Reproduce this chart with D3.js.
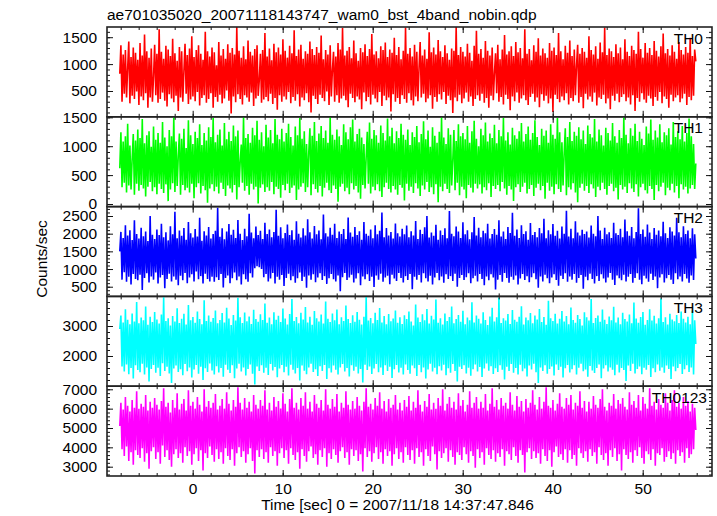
<!DOCTYPE html>
<html><head><meta charset="utf-8">
<script src="https://cdn.jsdelivr.net/npm/d3@7"></script>
<style>
body{margin:0;background:#fff}
svg{display:block}
text{font-family:"Liberation Sans",Arial,Helvetica,sans-serif;font-size:15.5px;fill:#000}
</style>
</head><body><svg id="c" width="717" height="516"></svg>
<script>
const TITLE = "ae701035020_20071118143747_wam0_bst_4band_nobin.qdp";
const X_LABEL = "Time [sec] 0 = 2007/11/18 14:37:47.846";
const Y_LABEL = "Counts/sec";
const TIME_START = -8.1, TIME_STEP = 0.125;
const X_MAJOR_TICKS = [0, 10, 20, 30, 40, 50];
const SERIES_NAMES = ["TH0", "TH1", "TH2", "TH3", "TH0123"];

const TH0 = [
820,1350,300,1180,450,1260,380,920,1420,270,1130,410,1310,350,1210,490,
1080,240,1390,400,1160,330,1550,460,1240,190,1120,380,1290,300,760,1360,
420,1190,280,1650,350,1230,470,1100,320,1340,210,1270,440,1150,360,1470,
290,1200,410,1060,130,1320,380,1240,300,870,1380,450,1170,260,1290,340,
1520,400,1130,310,1260,480,1350,230,1190,370,1080,420,1600,280,1240,350,
1140,460,1310,190,1220,390,980,300,1410,430,1160,270,1280,360,1100,510,
1370,320,1210,80,1300,400,1180,290,1690,440,1250,350,1120,250,1330,420,
1090,380,1440,300,1230,470,1160,220,1280,360,1350,410,700,1190,280,1260,
340,1580,390,1140,310,1290,450,1070,260,1380,370,1220,150,1310,420,1180,
300,1460,400,1250,340,1120,480,1340,270,1200,390,1630,320,1150,440,1270,
210,1360,380,1100,330,1240,460,1190,290,1420,100,1280,410,1170,350,1320,
260,1210,430,1530,370,1090,310,1260,490,1180,240,1350,400,890,1230,300,
1140,420,1390,280,1270,360,1670,410,1160,330,1250,200,1320,450,1110,370,
1440,290,1200,400,1060,340,1300,160,1220,470,1370,310,1150,390,1280,250,
1560,430,1180,360,1240,290,1110,480,1330,220,1260,410,1400,330,1130,380,
1270,120,1210,440,1490,300,1170,370,1320,260,1090,420,1250,350,1680,280,
1190,460,1300,330,1140,230,1360,400,1230,310,940,1410,380,1160,450,1270,
290,1100,360,1590,420,1220,170,1310,390,1180,300,1450,440,1240,340,1130,
480,1350,260,1200,410,1080,330,1290,90,1250,380,1700,310,1170,430,1320,
270,1230,360,1140,470,1380,300,1210,400,1060,220,1340,350,1620,420,1190,
320,1280,450,1120,280,1430,370,1250,190,1160,410,1310,330,820,1200,460,
1360,300,1090,390,1270,250,1540,430,1180,350,1240,140,1330,400,1150,310,
1410,470,1220,280,1300,360,1110,420,1650,330,1190,240,1280,390,1070,450,
1350,300,1230,380,1480,200,1160,440,1290,320,1200,410,1120,270,1390,360,
1250,110,1310,430,1170,350,1580,290,1240,400,1090,330,1340,460,1210,250,
1440,370,1150,310,1270,420,980,1360,280,1190,390,1300,180,1230,450,1120,
340,1520,400,1260,300,1180,470,1330,230,1100,380,1400,350,1220,430,1680,
270,1170,360,1290,160,1240,410,1130,320,1370,450,1200,290,1310,390,1090,
440,1460,310,1230,380,1150,250,1340,420,1260,130,1190,370,1600,300,1280,
460,1120,340,1390,280,1210,410,1300,360,1170,220,1430,390,1250,320,1140,
480,1330,270,1570,400,1200,350,1280,190,1160,430,1350,310,1230,380,1100,
420,1410,290,1260,360,1180,450,1320,240,1210,390,1490,330,1150,410,1270,
1050];

const TH1 = [
620,1240,290,1080,370,1170,200,1390,320,1010,250,780,1210,160,1100,350,
1290,230,1140,330,1470,270,1050,130,1190,300,1260,380,990,220,1340,290,
1110,170,1230,350,1060,260,1420,190,1150,340,1000,50,1280,250,1170,360,
1500,210,1080,310,840,1220,160,1130,330,1300,240,970,280,1450,200,1190,
350,1040,100,1250,290,1140,360,1380,180,1020,310,1230,240,1100,20,1330,
270,1160,340,1490,220,1070,300,1200,180,1290,370,1010,260,1400,140,1120,
320,1250,270,1090,200,1360,330,1170,80,1270,290,720,1030,370,1500,230,
1140,310,1210,160,1060,350,1320,250,1190,300,1440,10,1110,280,1240,340,
1000,210,1370,290,1150,230,1280,380,1050,170,1470,300,1200,260,1120,110,
1300,330,1080,240,1230,350,1390,190,1160,280,1010,320,1340,70,1190,250,
1490,300,1130,360,1260,210,1040,290,900,1310,150,1180,340,1420,260,1090,
200,1220,310,1350,130,1140,280,1270,370,1060,240,1500,190,1200,320,1110,
260,1290,40,1170,300,1020,350,1380,220,1240,280,1120,170,1330,360,1460,
250,1080,310,1210,200,1300,90,1150,330,1040,270,810,1250,350,1410,180,
1130,300,1280,240,1190,340,1060,220,1360,120,1230,290,1100,370,1480,260,
1170,200,1320,310,1050,250,1260,160,1140,330,1390,280,1200,60,1110,350,
1290,230,1020,300,1240,190,1160,360,1350,270,1070,140,1210,320,1430,250,
1120,380,1270,210,990,290,1330,170,1180,340,1060,30,1250,300,1500,220,
1150,350,1040,260,1310,190,1200,320,760,1280,240,1090,370,1380,150,1170,
300,1230,250,1120,100,1350,330,1060,280,1260,200,1440,350,1130,270,1000,
340,1300,180,1190,290,1410,240,1080,360,1220,120,1140,310,1370,260,1050,
330,1280,220,1170,380,1490,270,1100,160,1240,310,1030,250,1320,50,1190,
290,1130,340,1260,210,1400,300,1080,370,1210,180,1340,260,1110,330,1230,
140,1450,280,1160,350,1020,240,1300,310,1180,90,1270,370,1060,230,1380,
300,1200,170,1130,340,1490,260,1240,210,1070,320,880,1310,150,1160,290,
1420,250,1090,360,1250,200,1180,30,1330,280,1120,350,1270,230,1040,310,
1360,190,1210,340,1150,270,1470,120,1080,300,1290,240,1190,370,1010,260,
1320,160,1230,310,1100,350,1400,220,1170,280,1060,80,1280,330,1140,250,
1500,300,1200,190,1050,360,1310,270,1180,210,1390,340,1090,130,1250,290,
1130,350,1020,240,1340,180,1220,310,1460,260,1110,70,1270,330,1150,220,
1380,300,1070,370,1240,150,1190,280,1310,240,1030,350,1420,200,1160,310,
1260,100,1120,340,1350,250,1080,300,1230,180,1480,270,1170,330,1040,260,
700];

const TH2 = [
1500,2050,700,1880,910,2240,640,1950,780,2100,560,1820,860,2380,720,1990,
680,1860,840,2170,410,1930,750,2060,880,1790,620,2500,790,1970,700,1850,
900,2120,590,1960,760,2280,830,1900,460,2040,720,1810,870,2210,650,1980,
790,2620,700,1870,540,2090,810,1940,680,2160,890,1830,600,2330,760,2010,
850,1890,650,2130,930,1920,710,2450,800,1800,590,2070,870,1950,720,2190,
650,1860,780,1990,640,2080,770,2730,690,1910,860,2150,480,1840,750,2060,
820,2270,600,1970,740,2110,900,1880,680,2390,790,2000,560,1820,850,2140,
710,1930,640,2560,880,2030,760,1870,1020,2200,1080,1960,1050,2080,1000,1850,
770,2310,860,1990,650,2120,730,1900,890,2050,590,2680,780,1940,700,2180,
830,1870,520,2020,750,2260,870,1960,680,2100,800,1830,610,2350,740,2000,
900,1890,660,2150,780,1950,470,2410,820,2040,700,1860,850,2220,630,1980,
760,2090,880,1840,690,2540,800,2010,580,1920,740,2170,860,1970,710,2280,
650,1880,820,2060,370,1990,770,2130,890,1850,690,2460,760,2030,840,1910,
620,2190,730,1960,880,2070,540,1830,790,2330,710,2000,850,1940,660,2120,
780,1870,490,2240,820,1980,700,2080,870,2600,640,1900,760,2160,810,1950,
570,2050,840,1860,730,2290,660,2010,890,1920,750,2140,620,1980,800,2230,
690,1900,860,2070,430,1950,780,2360,700,1850,830,2110,620,1990,880,2180,
740,2500,650,1890,810,2030,560,1940,760,2250,890,1830,680,2090,790,1960,
610,2150,850,1870,720,2640,800,2000,660,1930,870,2200,500,2060,750,1880,
830,2320,690,1980,770,2100,880,1840,600,2040,740,2470,810,1950,650,2170,
860,1900,720,2080,540,2010,790,2280,680,1860,850,1990,760,2130,420,1970,
700,2380,830,1920,640,2060,890,1850,750,2190,610,2020,780,2590,700,1940,
820,2120,560,1880,730,2240,860,1990,690,2070,800,1830,630,2300,770,1960,
880,2050,710,1900,470,2160,790,2010,650,2420,840,1870,740,2100,600,1980,
760,2270,850,1940,690,2080,530,1860,810,2200,720,2000,880,2650,640,1920,
790,2140,700,1870,860,2350,610,2030,750,1950,830,2110,440,1990,780,2060,
680,1890,870,2230,720,2000,590,1930,800,2500,660,2090,850,1850,730,2170,
620,1980,760,2040,890,1880,700,2310,550,2010,820,1960,740,2140,680,1900,
840,2400,650,2070,780,1940,860,2190,610,1870,750,2050,880,2720,700,1990,
570,2120,810,1910,730,2260,640,2030,870,1850,690,2160,790,1970,460,2090,
760,1930,850,2340,620,2010,740,1880,830,2180,700,2060,580,1950,880,2450,
710,2040,790,1900,650,2210,860,1990,730,2090,610,1870,820,2150,690,1980,
1300];

const TH3 = [
2900,3350,1650,3120,1480,3560,1720,3210,1390,3060,1600,3420,1250,3150,1690,3800,
1530,3090,1460,3280,1740,3190,1380,3650,1620,3040,1150,3310,1570,3130,1700,3470,
1440,3220,1610,3080,1330,3380,1760,3960,1500,3170,1640,3260,1420,3020,1100,3330,
1580,3150,1680,3590,1470,3100,1560,3240,1360,3410,1730,3050,1490,3700,1620,3190,
1280,3300,1550,3110,1700,3480,1410,3230,1640,3060,1200,3860,1590,3170,1470,3350,
1750,3140,1520,3270,1380,3520,1660,3090,1450,3200,1600,3430,1310,3120,1710,3610,
1540,3250,1430,3030,1690,3370,1260,3180,1580,3940,1740,3290,1480,3100,1620,3450,
1350,3160,1570,3320,1720,3070,1410,3540,1050,3230,1650,3140,1500,3390,1690,3200,
1440,3750,1610,3110,1370,3280,1730,3060,1520,3460,1630,3210,1290,3340,1580,3130,
1700,3580,1460,3250,1640,3050,1350,3400,1710,3900,1540,3170,1420,3300,1600,3090,
1180,3440,1680,3220,1510,3630,1390,3120,1620,3310,1740,3040,1470,3500,1560,3260,
1330,3150,1660,3380,1500,3080,1700,3820,1230,3240,1590,3130,1450,3420,1680,3190,
1540,3550,1380,3060,1620,3290,1730,3170,1480,3680,1600,3230,1320,3100,1690,3360,
1510,3140,1640,3470,1420,3210,1570,3050,1120,3310,1710,3970,1530,3180,1650,3270,
1400,3090,1580,3440,1730,3200,1460,3600,1620,3120,1370,3330,1690,3060,1500,3400,
1640,3160,1270,3250,1560,3520,1700,3110,1450,3290,1610,3070,1380,3360,1720,3230,
1530,3480,1410,3150,1680,3020,1590,3720,1330,3280,1700,3130,1460,3390,1620,3190,
1250,3570,1550,3080,1740,3340,1480,3220,1610,3880,1390,3110,1660,3260,1520,3050,
1710,3420,1360,3170,1590,3300,1440,3650,1730,3090,1500,3230,1150,3370,1640,3140,
1570,3510,1690,3060,1420,3280,1610,3190,1340,3790,1560,3120,1720,3350,1480,3240,
1630,3080,1300,3460,1580,3200,1750,3030,1510,3320,1660,3610,1400,3150,1590,3290,
1470,3950,1690,3100,1540,3260,1220,3180,1640,3400,1500,3070,1730,3530,1440,3210,
1600,3140,1380,3310,1710,3660,1490,3050,1580,3280,1320,3190,1680,3430,1550,3090,
1740,3350,1460,3220,1100,3570,1620,3130,1500,3300,1690,3040,1410,3840,1570,3260,
1650,3170,1350,3410,1720,3080,1530,3240,1640,3500,1280,3150,1590,3330,1700,3060,
1450,3620,1560,3200,1690,3110,1380,3370,1610,3230,1740,3020,1490,3460,1550,3290,
1310,3180,1670,3900,1520,3100,1430,3270,1600,3350,1720,3140,1260,3550,1580,3210,
1690,3070,1480,3320,1620,3190,1540,3640,1360,3120,1710,3280,1450,3060,1600,3440,
1530,3230,1170,3150,1680,3380,1500,3090,1740,3780,1420,3250,1570,3110,1650,3300,
1390,3470,1610,3040,1540,3200,1700,3560,1300,3180,1590,3340,1460,3080,1720,3260,
1510,3920,1620,3130,1440,3290,1680,3050,1570,3410,1230,3220,1650,3160,1490,3370,
1600,3100,1730,3480,1400,3240,1560,3120,1690,3310,1470,3060,1620,3520,1380,3190,
2400];

const TH0123 = [
5100,6300,3900,5950,3550,6600,4050,6150,3300,5850,3750,6450,3100,6050,3850,6900,
3600,6000,3450,6250,3950,6100,3250,6700,3700,5900,2900,6350,3800,6050,4000,6550,
3400,6200,3750,5950,3150,6400,4100,7050,3500,6100,3850,6300,3350,5800,3000,6450,
3650,6050,3900,6800,3450,5950,3700,6250,3200,6500,4000,5900,3550,6950,3800,6150,
3100,6350,3650,6000,3950,6600,3300,6200,3850,5850,2800,7000,3700,6100,3450,6400,
4050,6050,3600,6300,3250,6750,3900,5950,3400,6150,3750,6500,3150,6000,3950,6850,
3550,6250,3350,5900,3900,6450,3050,6100,3700,7100,4000,6300,3500,5950,3800,6550,
3200,6050,3650,6350,3950,5850,3300,6700,2650,6200,3850,6000,3500,6450,3900,6150,
3400,6950,3750,5950,3200,6300,4000,5900,3550,6600,3800,6100,3050,6400,3700,6000,
3950,6800,3450,6250,3850,5850,3150,6500,3950,7050,3600,6050,3350,6300,3750,5950,
2900,6550,3900,6150,3550,6850,3250,6000,3800,6350,4050,5850,3450,6700,3650,6250,
3100,6050,3850,6450,3500,5900,3950,7000,3000,6200,3700,6000,3400,6500,3900,6100,
3600,6750,3200,5850,3800,6300,4000,6050,3450,6900,3750,6200,3100,5950,3900,6400,
3550,6000,3850,6600,3300,6150,3650,5900,2750,6350,3950,7050,3500,6100,3800,6250,
3250,5950,3700,6550,4000,6150,3400,6850,3750,6000,3150,6400,3900,5850,3550,6500,
3800,6050,3050,6200,3650,6700,3950,5950,3400,6300,3750,5900,3200,6450,4000,6100,
3600,6650,3350,5900,3850,6350,3150,6050,3950,6950,3500,6200,3750,5850,3050,6400,
3900,6100,3550,6750,3300,5950,4050,6300,3650,6000,2850,6550,3800,6150,3450,7000,
3700,5900,3950,6250,3250,6600,3850,6050,3500,6350,3100,5950,3750,6800,3600,6150,
3350,6450,4000,5850,3650,6200,3200,6900,3800,6050,3550,6300,2950,6600,3900,6000,
3450,6350,3750,6050,3100,6750,3950,5900,3600,6250,3400,7050,3850,6100,3250,6450,
3700,5950,3500,6550,3900,6150,3050,6300,3800,6000,3650,6850,3350,6200,4000,5900,
3550,6650,3200,6100,3850,6400,3600,5850,2700,6500,3750,6050,3950,6300,3400,6950,
3800,6200,3450,5950,3700,6600,3150,6000,3900,6350,3550,7100,3300,6150,3850,6050,
3000,6450,3750,5900,4050,6250,3500,6800,3650,6100,3350,6000,3900,6550,3200,6200,
3850,6700,3400,5950,3600,6300,3050,6150,3950,6900,3700,6050,3450,6400,3800,5850,
3250,6350,3900,6000,3550,6650,3750,6200,3150,6050,4000,6500,3600,7000,3350,6100,
3700,5900,3050,6300,3850,6150,3500,6750,3950,6000,3300,6450,3650,6250,2800,6550,
3900,6100,3600,5950,3400,6850,3750,6200,3200,6400,3850,6050,3550,6700,4000,5900,
3450,6600,3150,6250,3800,6000,3650,7050,3350,6150,3900,6350,3050,5950,3700,6500,
3600,6200,3950,6050,3250,6800,3500,6300,3800,5900,3400,6450,3700,6950,3150,6100,
3850,6300,3550,6000,3750,6600,3200,6150,3950,6400,3450,5850,3650,6250,3900,6050,
4900];

const Y_MAJOR_TICKS = [
  [500, 1000, 1500],
  [0, 500, 1000, 1500],
  [500, 1000, 1500, 2000, 2500],
  [2000, 3000],
  [3000, 4000, 5000, 6000, 7000]
];
const Y_MINOR_STEP = [100, 100, 100, 200, 200];
const Y_DOMAINS = [[20, 1690], [-45, 1509], [226, 2766], [993, 3987], [2519, 7160]];
const COLORS = ["#ff0000", "#00ff00", "#0000ff", "#00ffff", "#ff00ff"];
const SERIES = [TH0, TH1, TH2, TH3, TH0123];

const svg = d3.select("#c");
const L = 107, R = 712, TOP = 27, BOT = 476;
const PH = (BOT - TOP) / 5;
const x = d3.scaleLinear().domain([-9.52, 57.7]).range([L, R]);
const xMinor = d3.range(-8, 58, 2);

SERIES.forEach((vals, i) => {
  const top = TOP + i * PH, bot = top + PH;
  const y = d3.scaleLinear().domain(Y_DOMAINS[i]).range([bot, top]);
  const g = svg.append("g");
  const cid = "clip" + i;
  svg.append("clipPath").attr("id", cid).append("rect")
    .attr("x", L).attr("y", top).attr("width", R - L).attr("height", PH);
  const line = d3.line()
    .x((d, j) => x(TIME_START + j * TIME_STEP))
    .y(d => y(d));
  g.append("path").datum(vals)
    .attr("clip-path", `url(#${cid})`)
    .attr("fill", "none")
    .attr("stroke", COLORS[i])
    .attr("stroke-width", 1.6)
    .attr("stroke-linejoin", "bevel")
    .attr("d", line);

  const [d0, d1] = Y_DOMAINS[i];
  const st = Y_MINOR_STEP[i];
  const yMinor = d3.range(Math.ceil(d0 / st) * st, d1, st);

  const addAxis = (axis, tx, ty, labels) => {
    const a = svg.append("g").attr("transform", `translate(${tx},${ty})`).call(axis);
    a.select(".domain").remove();
    a.selectAll(".tick line").attr("stroke", "#111").attr("stroke-width", 1);
    if (!labels) a.selectAll(".tick text").remove();
    else a.selectAll(".tick text").attr("font-family", null).attr("font-size", null);
    return a;
  };
  addAxis(d3.axisLeft(y).tickValues(yMinor).tickSize(-3), L, 0, false);
  addAxis(d3.axisLeft(y).tickValues(Y_MAJOR_TICKS[i]).tickSize(-6).tickPadding(10).tickFormat(d3.format("d")), L, 0, true);
  addAxis(d3.axisRight(y).tickValues(yMinor).tickSize(-3), R, 0, false);
  addAxis(d3.axisRight(y).tickValues(Y_MAJOR_TICKS[i]).tickSize(-6), R, 0, false);
  addAxis(d3.axisTop(x).tickValues(xMinor).tickSize(-3), 0, top, false);
  addAxis(d3.axisTop(x).tickValues(X_MAJOR_TICKS).tickSize(-6), 0, top, false);
  addAxis(d3.axisBottom(x).tickValues(xMinor).tickSize(-3), 0, bot, false);
  addAxis(d3.axisBottom(x).tickValues(X_MAJOR_TICKS).tickSize(-6).tickPadding(6.5), 0, bot, i === 4);

  svg.append("rect").attr("x", L).attr("y", top).attr("width", R - L).attr("height", PH)
    .attr("fill", "none").attr("stroke", "#222").attr("stroke-width", 1.6);

  svg.append("text")
    .attr("x", i === 4 ? 707 : 703).attr("y", top + 16.5)
    .attr("text-anchor", "end").text(SERIES_NAMES[i]);
});

svg.append("text").attr("x", 107).attr("y", 19.5).text(TITLE);
svg.append("text").attr("x", 397.5).attr("y", 510).attr("text-anchor", "middle").text(X_LABEL);
svg.append("text").attr("transform", "translate(47,259) rotate(-90)")
  .attr("text-anchor", "middle").text(Y_LABEL);
</script>
</body></html>
